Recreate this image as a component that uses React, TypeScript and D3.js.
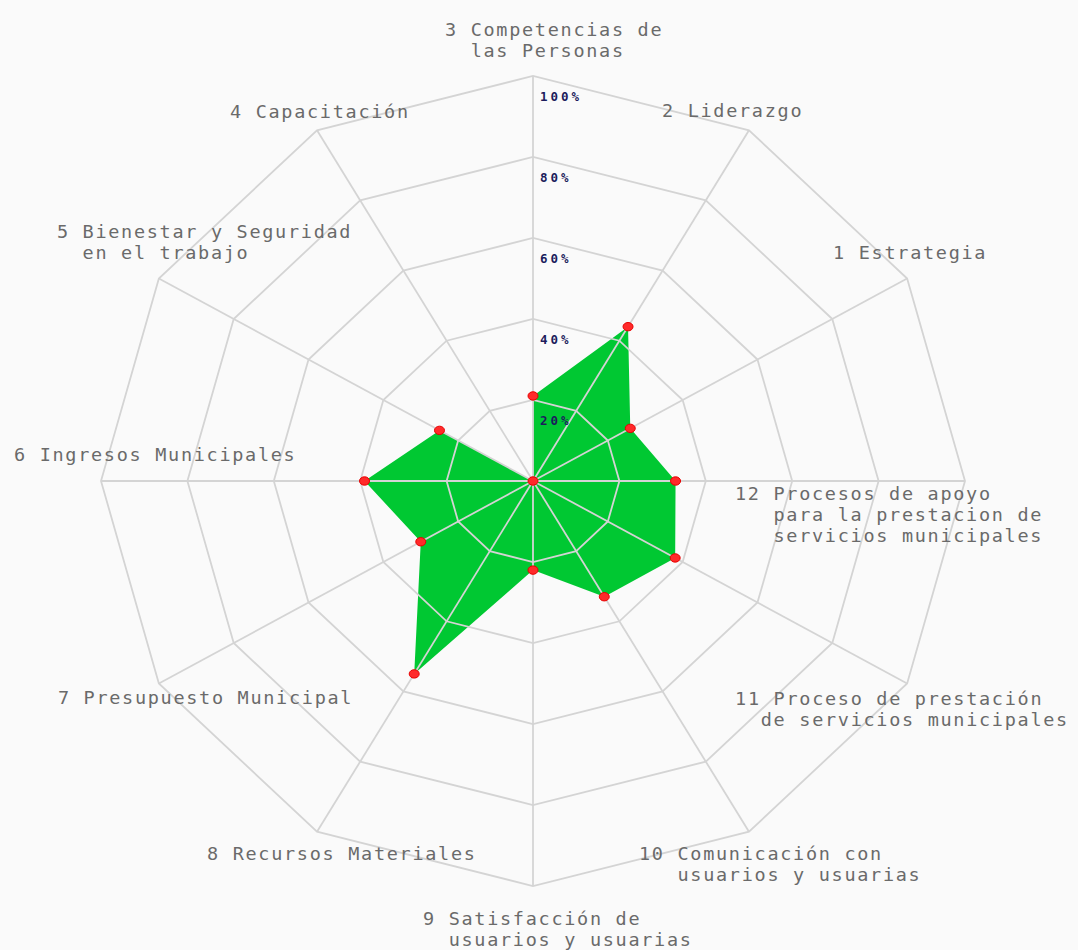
import * as d3 from 'd3'

// axis numbers go counter-clockwise from "1 Estrategia" (30 deg) round to "12" (0 deg)
const axisLabels: string[][] = [
    ['1 Estrategia'],
    ['2 Liderazgo'],
    ['3 Competencias de', '  las Personas'],
    ['4 Capacitación'],
    ['5 Bienestar y Seguridad', '  en el trabajo'],
    ['6 Ingresos Municipales'],
    ['7 Presupuesto Municipal'],
    ['8 Recursos Materiales'],
    ['9 Satisfacción de', '  usuarios y usuarias'],
    ['10 Comunicación con', '   usuarios y usuarias'],
    ['11 Proceso de prestación', '  de servicios municipales'],
    ['12 Procesos de apoyo', '   para la prestacion de', '   servicios municipales'],
]
const scores: number[] = [26, 44, 21, 0, 25, 39, 30, 55, 22, 33, 38, 33]
const gridLevels: number[] = [20, 40, 60, 80, 100]
const gridLabels: string[] = ['20%', '40%', '60%', '80%', '100%']

// where each label's first line starts, relative to its axis end
const labelOffsets: [number, number][] = [
    [-74, -26], [-87, -19], [-88, -46], [-87, -18], [-102, -47], [-87, -26],
    [-101, 14], [-110, 22], [-110, 33], [-110, 22], [-172, 15], [-230, 13],
]

const W = 1078
const H = 950
const cx = 533
const cy = 481

function App() {
    const rX = d3.scaleLinear().domain([0, 100]).range([0, 432])
    const rY = d3.scaleLinear().domain([0, 100]).range([0, 405])
    const angle = (i: number) => ((i + 1) * 30 * Math.PI) / 180
    const pt = (i: number, v: number): [number, number] => [
        cx + rX(v) * Math.cos(angle(i)),
        cy - rY(v) * Math.sin(angle(i)),
    ]
    const closed = d3.line().curve(d3.curveLinearClosed)
    const font = "'DejaVu Sans Mono', 'Liberation Mono', monospace"

    return (
        <div style={{ position: 'absolute', left: 0, top: 0 }}>
            <svg width={W} height={H} style={{ display: 'block' }}>
                <rect width={W} height={H} fill='#fafafa' />
                <path d={closed(scores.map((v, i) => pt(i, v))) ?? ''} fill='#00c832' />
                {gridLevels.map(lv => (
                    <path key={lv} d={closed(scores.map((_, i) => pt(i, lv))) ?? ''}
                        fill='none' stroke='#d4d4d4' strokeWidth={1.8} />
                ))}
                {scores.map((_, i) => {
                    const [x, y] = pt(i, 100)
                    return <line key={i} x1={cx} y1={cy} x2={x} y2={y} stroke='#d4d4d4' strokeWidth={1.8} />
                })}
                <circle cx={cx} cy={cy} r={3.5} fill='#c8c8c8' />
                {scores.map((v, i) => {
                    const [x, y] = pt(i, v)
                    return <ellipse key={i} cx={x} cy={y} rx={5} ry={4.2} fill='#ff2a2a' stroke='#e80000' strokeWidth={1} />
                })}
                {gridLevels.map((lv, j) => (
                    <text key={lv} x={cx + 7} y={cy - rY(lv) + 25} fontFamily={font} fontSize={12.5}
                        fontWeight='bold' letterSpacing={3} fill='#1c1c5c'>{gridLabels[j]}</text>
                ))}
                {axisLabels.map((lines, i) => {
                    const [x, y] = pt(i, 100)
                    const [dx, dy] = labelOffsets[i]
                    return (
                        <text key={i} fontFamily={font} fontSize={18.5} letterSpacing={1.7}
                            fill='#6a6a6a' style={{ whiteSpace: 'pre' }}>
                            {lines.map((ln, k) => (
                                <tspan key={k} x={x + dx} y={y + dy + 6 + k * 21}>{ln}</tspan>
                            ))}
                        </text>
                    )
                })}
            </svg>
        </div>
    )
}

export default App
